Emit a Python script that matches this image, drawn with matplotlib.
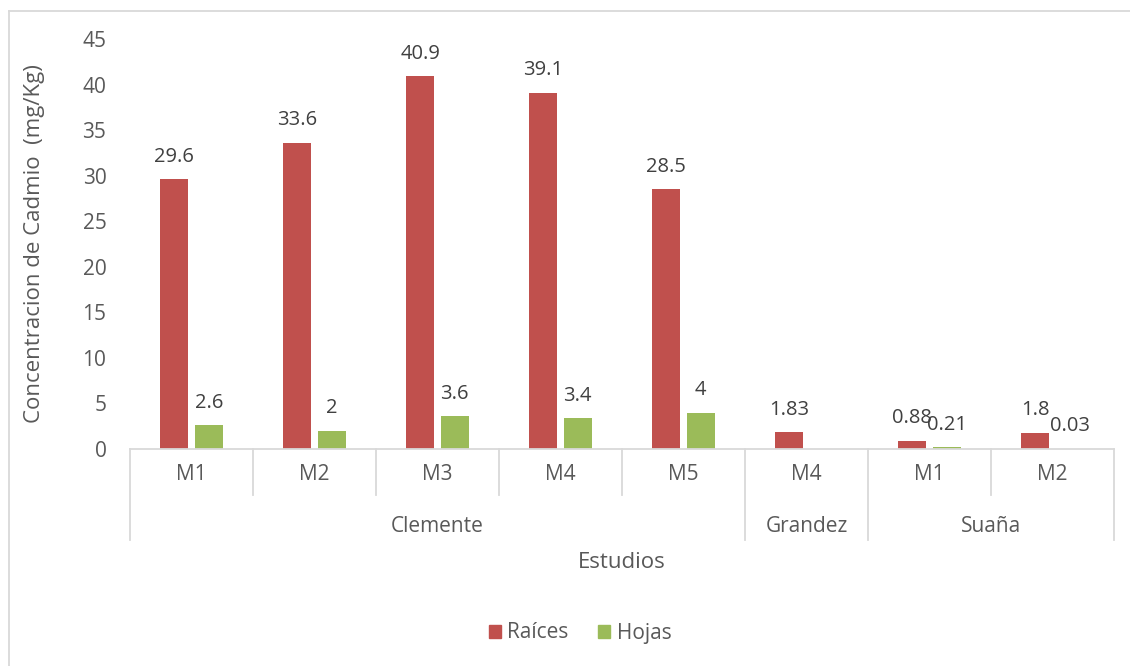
import matplotlib.pyplot as plt
from matplotlib.lines import Line2D
from matplotlib.patches import Patch
import numpy as np

plt.rcParams['font.family'] = ['Open Sans', 'DejaVu Sans']

# data
estudios = ['Clemente', 'Clemente', 'Clemente', 'Clemente', 'Clemente', 'Grandez', 'Suaña', 'Suaña']
muestras = ['M1', 'M2', 'M3', 'M4', 'M5', 'M4', 'M1', 'M2']
raices = [29.6, 33.6, 40.9, 39.1, 28.5, 1.83, 0.88, 1.8]
hojas = [2.6, 2.0, 3.6, 3.4, 4.0, None, 0.21, 0.03]
raices_lbl = ['29.6', '33.6', '40.9', '39.1', '28.5', '1.83', '0.88', '1.8']
hojas_lbl = ['2.6', '2', '3.6', '3.4', '4', '', '0.21', '0.03']

red = '#C0504D'
green = '#9BBB59'
txt = '#595959'
line_c = '#D9D9D9'

fig = plt.figure(figsize=(11.3, 6.66), dpi=100)
ax = fig.add_axes([130 / 1130, 1 - 449 / 666, 984 / 1130, 410 / 666])

x = np.arange(len(muestras))
w = 0.227
off = 0.14
ax.bar(x - off, raices, w, color=red)
hv = [v if v is not None else 0 for v in hojas]
ax.bar(x + off, hv, w, color=green)

for i in range(len(x)):
    ax.annotate(raices_lbl[i], (x[i] - off, raices[i]), xytext=(0, 9), textcoords='offset points',
                ha='center', va='bottom', fontsize=14.5, color='#404040')
    if hojas_lbl[i]:
        ax.annotate(hojas_lbl[i], (x[i] + off, hv[i]), xytext=(0, 9), textcoords='offset points',
                    ha='center', va='bottom', fontsize=14.5, color='#404040')

ax.set_xlim(-0.5, len(x) - 0.5)
ax.set_ylim(0, 45)
ax.set_yticks(range(0, 46, 5))
ax.tick_params(axis='y', length=0, labelsize=15, labelcolor=txt, pad=17)
ax.set_xticks([])
for s in ['left', 'right', 'top']:
    ax.spines[s].set_visible(False)
ax.spines['bottom'].set_color(line_c)
ax.spines['bottom'].set_linewidth(1.3)

ax.set_ylabel('Concentracion de Cadmio  (mg/Kg)', fontsize=16, color=txt, labelpad=27)

# multi-level category axis
tr = ax.get_xaxis_transform()
y_in = -46 / 410
y_out = -91 / 410
for i, m in enumerate(muestras):
    ax.text(i, -25 / 410, m, transform=tr, ha='center', va='center', fontsize=15, color=txt)
bounds = [0]
for i in range(1, len(estudios)):
    if estudios[i] != estudios[i - 1]:
        bounds.append(i)
bounds.append(len(estudios))
for b in range(len(x) + 1):
    yb = y_out if b in bounds else y_in
    ax.add_line(Line2D([b - 0.5, b - 0.5], [0, yb], transform=tr, color=line_c, lw=1.3, clip_on=False))
for a, b in zip(bounds[:-1], bounds[1:]):
    ax.text((a + b - 1) / 2, -77 / 410, estudios[a], transform=tr, ha='center', va='center',
            fontsize=15, color=txt)

ax.text(0.5, -114 / 410, 'Estudios', transform=ax.transAxes, ha='center', va='center',
        fontsize=16, color=txt)

handles = [Patch(color=red, label='Raíces'), Patch(color=green, label='Hojas')]
fig.legend(handles=handles, loc='center', bbox_to_anchor=(580 / 1130, 1 - 633 / 666), ncol=2,
           frameon=False, fontsize=15, labelcolor=txt, handlelength=0.6, handleheight=0.6,
           handletextpad=0.3, columnspacing=1.4)

# chart border
fig.add_artist(Line2D([9 / 1130, 9 / 1130], [0, 1 - 11 / 666], color=line_c, lw=1.3))
fig.add_artist(Line2D([9 / 1130, 1], [1 - 11 / 666, 1 - 11 / 666], color=line_c, lw=1.3))

fig.savefig('out.png', dpi=100)
